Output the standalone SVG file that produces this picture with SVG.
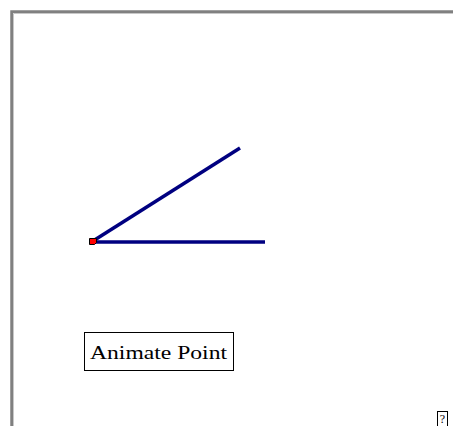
<svg xmlns="http://www.w3.org/2000/svg" width="453" height="426" viewBox="0 0 453 426">
<style>
.ray{stroke:#000080;stroke-width:3.5;stroke-linecap:butt;fill:none}
.lbl{font-family:"Liberation Serif","DejaVu Serif",serif;fill:#000}
</style>
<rect width="453" height="426" fill="#fff"/>
<g id="frame">
<path d="M10.5,426 V10.5 H453" fill="none" stroke="#a0a0a0" stroke-width="1"/>
<path d="M12,426 V12 H453" fill="none" stroke="#808080" stroke-width="2"/>
<path d="M13.5,426 V13.5 H453" fill="none" stroke="#c8c8c8" stroke-width="1"/>
</g>
<g id="connectors">
<line class="ray" x1="93" y1="241" x2="240" y2="148"/>
<line class="ray" x1="93" y1="242" x2="265" y2="242"/>
</g>
<g id="point">
<path d="M89.5,238.5 H96.5 V242.5 L94.5,244.5 H89.5 Z" fill="#ff0000" stroke="#000" stroke-width="1"/>
</g>
<g id="button">
<rect x="84.5" y="332.5" width="149" height="38" fill="#fff" stroke="#000" stroke-width="1"/>
<text class="lbl" x="90" y="359" font-size="19" textLength="137" lengthAdjust="spacingAndGlyphs">Animate Point</text>
</g>
<g id="help">
<rect x="437.5" y="411.5" width="10" height="16" fill="#fff" stroke="#000" stroke-width="1"/>
<text class="lbl" x="442.5" y="423" font-size="12" text-anchor="middle">?</text>
</g>
</svg>
